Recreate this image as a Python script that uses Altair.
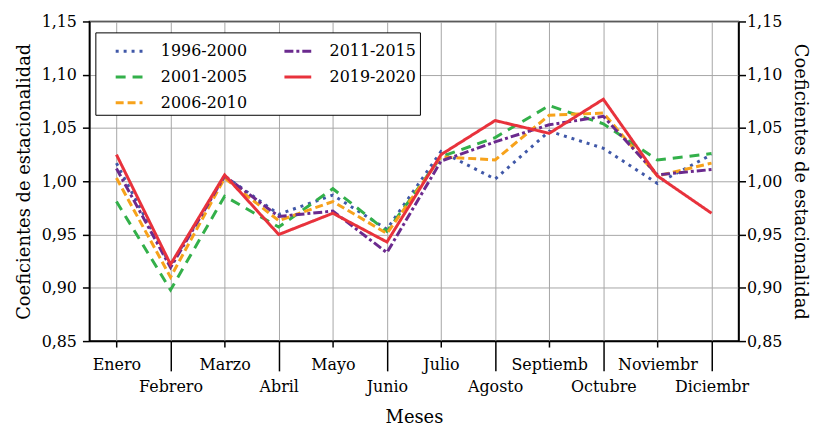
import json
import altair as alt
import pandas as pd

months = ["Enero", "Febrero", "Marzo", "Abril", "Mayo", "Junio", "Julio",
          "Agosto", "Septiemb", "Octubre", "Noviembr", "Diciembr"]
periods = ["1996-2000", "2001-2005", "2006-2010", "2011-2015", "2019-2020"]

s1996 = [1.017, 0.921, 1.005, 0.969, 0.987, 0.955, 1.028, 1.002, 1.047, 1.031, 0.998, 1.025]
s2001 = [0.981, 0.898, 0.986, 0.957, 0.993, 0.953, 1.023, 1.041, 1.071, 1.054, 1.020, 1.026]
s2006 = [1.003, 0.910, 1.003, 0.963, 0.981, 0.951, 1.023, 1.020, 1.062, 1.064, 1.005, 1.017]
s2011 = [1.012, 0.919, 1.005, 0.967, 0.972, 0.933, 1.019, 1.037, 1.053, 1.061, 1.006, 1.011]
s2019 = [1.025, 0.922, 1.006, 0.950, 0.970, 0.943, 1.025, 1.057, 1.045, 1.077, 1.005, 0.970]
series = [s1996, s2001, s2006, s2011, s2019]

colors = ["#4058a8", "#33b04a", "#f7a21b", "#6b2a8e", "#e8323c"]
dashes = [[3, 5], [10, 7], [8, 4], [9, 3, 3, 3], [1, 0]]

y_ticks = [0.85, 0.90, 0.95, 1.00, 1.05, 1.10, 1.15]

rows = []
for p, vals in zip(periods, series):
    for i, v in enumerate(vals):
        rows.append({"periodo": p, "mes": i + 1, "valor": v})
df = pd.DataFrame(rows)

month_expr = json.dumps(months) + "[datum.value - 1]"
even = "datum.value % 2 == 0"
comma = "replace(format(datum.value, '.2f'), '.', ',')"

xscale = alt.Scale(domain=[0.5, 12.5], nice=False, zero=False)
xaxis = alt.Axis(
    values=list(range(1, 13)),
    labelExpr=month_expr,
    title="Meses",
    grid=True,
    labelOverlap=False,
    labelFlush=False,
    labelBound=False,
    tickSize={"condition": {"test": even, "value": 30}, "value": 6},
    labelPadding={"condition": {"test": even, "value": 8}, "value": 10},
    titlePadding=14,
)
yscale = alt.Scale(domain=[0.85, 1.15], nice=False, zero=False)

legend = alt.Legend(
    title=None, orient="none", legendX=6, legendY=11, columns=2,
    columnPadding=21, rowPadding=3, padding=4,
    strokeColor="black", fillColor="white",
    symbolType="stroke", symbolSize=729, symbolStrokeWidth=3,
    symbolOffset=15, labelFontSize=16, labelOffset=17,
)

lines = alt.Chart(df).mark_line(strokeWidth=3).encode(
    x=alt.X("mes:Q", scale=xscale, axis=xaxis),
    y=alt.Y(
        "valor:Q",
        scale=yscale,
        axis=alt.Axis(values=y_ticks, labelExpr=comma, title="Coeficientes de estacionalidad",
                      tickSize=7, labelPadding=6, grid=True, titlePadding=8),
    ),
    color=alt.Color("periodo:N", scale=alt.Scale(domain=periods, range=colors), legend=legend),
    strokeDash=alt.StrokeDash("periodo:N", scale=alt.Scale(domain=periods, range=dashes), legend=legend),
)

right = alt.Chart(df).mark_line(opacity=0).encode(
    x=alt.X("mes:Q", scale=xscale, axis=xaxis),
    y=alt.Y(
        "valor:Q",
        scale=yscale,
        axis=alt.Axis(orient="right", values=y_ticks, labelExpr=comma,
                      title="Coeficientes de estacionalidad", tickSize=7, labelPadding=1,
                      grid=False, titlePadding=9),
    ),
    detail="periodo:N",
)

chart = (
    alt.layer(lines, right)
    .resolve_axis(y="independent")
    .properties(
        width=654, height=322,
        autosize=alt.AutoSizeParams(type="none"),
        padding={"left": 82, "top": 12, "right": 75, "bottom": 86},
    )
    .configure(font="DejaVu Serif")
    .configure_axis(
        labelFont="DejaVu Serif", titleFont="DejaVu Serif",
        labelFontSize=16, titleFontSize=18, titleFontWeight="normal",
        labelColor="black", titleColor="black",
        domainColor="black", domainWidth=1.5,
        tickColor="black", tickWidth=1.5,
        gridColor="#a6a6a6", gridWidth=1,
    )
    .configure_legend(labelFont="DejaVu Serif", labelColor="black")
    .configure_view(stroke="black", strokeWidth=1.5)
)

chart.save("out.html", embed_options={"renderer": "svg", "actions": False})
